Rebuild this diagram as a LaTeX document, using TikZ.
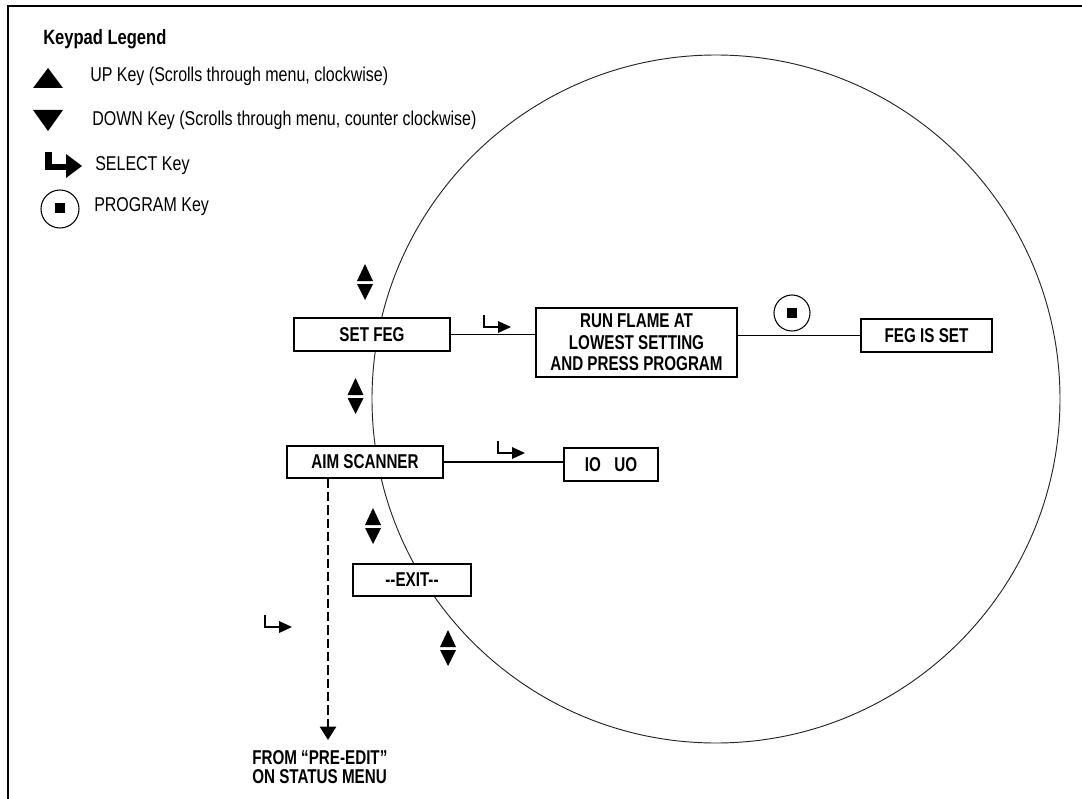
\documentclass[tikz,border=0pt]{standalone}
\usepackage{fontspec}
\setmainfont{Liberation Sans}[FakeStretch=0.76]
\newfontfamily\legendfont{Liberation Sans}[FakeStretch=0.8]
\usetikzlibrary{arrows.meta}
\tikzset{
  updown/.pic={\fill (-8,17) -- (8,17) -- (0,0) -- cycle; \fill (-8,20) -- (8,20) -- (0,36) -- cycle;},
  selkey/.pic={\draw[line width=0.8pt] (0,-12) -- (0,0) -- (15,0); \fill (14,-6) -- (14,6) -- (27,0) -- cycle;},
  progkey/.pic={\draw[line width=0.8pt] (0,0) circle[radius=13.5pt]; \fill (-5,-5) rectangle (5,5);},
  box/.style={draw, line width=1.1pt, fill=white, inner sep=0pt, font=\fontsize{15}{16}\selectfont\bfseries, align=center},
  legtext/.style={anchor=base west, inner sep=0pt, font=\legendfont\fontsize{15}{16}\selectfont},
  conn/.style={line width=0.9pt}
}
\begin{document}
\begin{tikzpicture}[x=0.75pt,y=-0.75pt]
\useasboundingbox (0,0) rectangle (1082,799);
\fill[white] (0,0) rectangle (1082,799);
\draw[line width=1.5pt] (8,799) -- (8,6) -- (1082,6);
% big circle
\draw[line width=0.7pt, black!85] (716,399) circle[radius=258pt];
% legend
\node[legtext, font=\legendfont\fontsize{15.5}{16}\selectfont\bfseries] (title) at (43,45) {Keypad Legend};
\fill (33,88) -- (63,88) -- (48,68) -- cycle;
\node[legtext] (upkey) at (90,82) {UP Key (Scrolls through menu, clockwise)};
\fill (33,110) -- (63,110) -- (48,131) -- cycle;
\node[legtext] (downkey) at (92,125) {DOWN Key (Scrolls through menu, counter clockwise)};
\draw[line width=5.2pt] (48.5,152) -- (48.5,167) -- (67,167);
\fill (66,154) -- (66,178) -- (82,166) -- cycle;
\node[legtext] (selectkey) at (95,170) {SELECT Key};
\draw[line width=0.8pt] (60,209) circle[radius=14.25pt];
\fill (55,203) rectangle (65,213);
\node[legtext] (progkey) at (94,211) {PROGRAM Key};
% boxes
\node[box, minimum width=117pt, minimum height=24.75pt] (setfeg) at (372,334.5) {SET FEG};
\node[box, minimum width=150.75pt, minimum height=51.75pt] (run) at (636.5,342.5) {RUN FLAME AT\\LOWEST SETTING\\AND PRESS PROGRAM};
\node[box, minimum width=98.25pt, minimum height=24.75pt] (fegset) at (926.5,335.5) {FEG IS SET};
\node[box, minimum width=117pt, minimum height=24pt] (aim) at (365,462) {AIM SCANNER};
\node[box, minimum width=70.5pt, minimum height=24.75pt] (io) at (611,464.5) {IO\hspace{10pt}UO};
\node[box, minimum width=88.5pt, minimum height=24pt] (exit) at (412,580) {-{}-EXIT-{}-};
% connectors
\draw[conn] (setfeg.east) -- (setfeg.east -| run.west);
\draw[conn] (fegset.west -| run.east) -- (fegset.west);
\draw[conn] (aim.east) -- (aim.east -| io.west);
\coordinate (dtip) at (328,740);
\draw[line width=1.9pt, dash pattern=on 7pt off 3pt, -{Triangle[width=12pt,length=10pt]}] (aim.south -| dtip) -- (dtip);
\node[anchor=north west, inner sep=0pt, align=left, font=\fontsize{15}{14.3}\selectfont\bfseries] (from) at (252,750) {FROM “PRE-EDIT”\\ON STATUS MENU};
% key symbols
\pic at (365,264) {updown};
\pic at (355.5,378) {updown};
\pic at (373,508) {updown};
\pic at (448,630) {updown};
\pic at (484,327) {selkey};
\pic at (498,453) {selkey};
\pic at (265,627) {selkey};
\pic at (792,313) {progkey};
\end{tikzpicture}
\end{document}
